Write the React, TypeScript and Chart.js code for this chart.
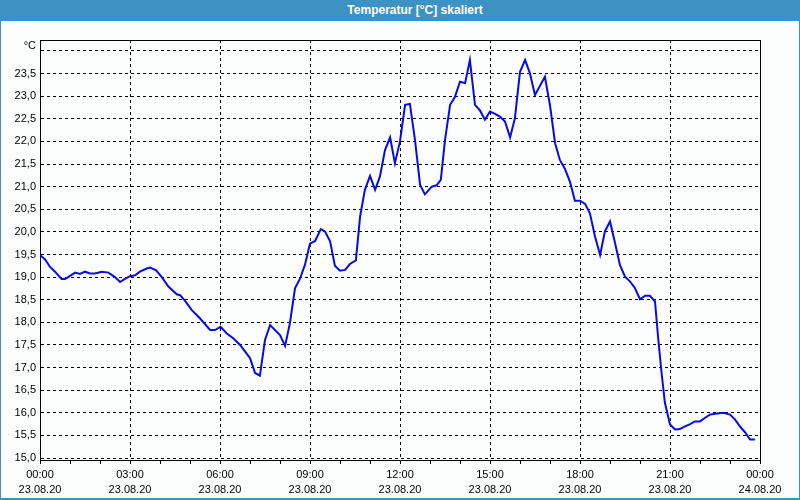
import React, { useEffect, useRef } from "react";
import { Chart, registerables } from "chart.js";

Chart.register(...registerables);

const TITLE = "Temperatur [°C] skaliert";
const UNIT_LABEL = "°C";

// time of day in hours (23.08.20 00:00 = 0)
const hours: number[] = [
  0.0, 0.17, 0.33, 0.5, 0.61, 0.72, 0.83, 0.94, 1.17, 1.33, 1.5, 1.67, 1.83, 2.06, 2.28, 2.5, 2.67, 2.83,
  3.0, 3.17, 3.33, 3.56, 3.67, 3.87, 4.06, 4.28, 4.56, 4.67, 4.83, 5.06, 5.33, 5.67, 5.83,
  6.02, 6.22, 6.44, 6.67, 7.0, 7.17, 7.33, 7.5, 7.67, 8.0, 8.17, 8.33, 8.5, 8.67, 8.83,
  9.0, 9.17, 9.36, 9.5, 9.67, 9.83, 10.0, 10.17, 10.33, 10.53, 10.67, 10.83, 11.0, 11.17, 11.33, 11.5, 11.67, 11.83,
  12.0, 12.17, 12.33, 12.5, 12.67, 12.83, 13.06, 13.22, 13.36, 13.5, 13.67, 13.83, 14.0, 14.17, 14.33, 14.5, 14.67, 14.83,
  15.0, 15.17, 15.33, 15.5, 15.67, 15.83, 16.0, 16.17, 16.33, 16.5, 16.83, 17.0, 17.17, 17.33, 17.5, 17.67, 17.83,
  18.0, 18.17, 18.33, 18.5, 18.67, 18.83, 19.0, 19.17, 19.33, 19.5, 19.67, 19.83, 20.0, 20.17, 20.33, 20.5, 20.61, 20.72, 20.83,
  21.0, 21.17, 21.33, 21.5, 21.67, 21.83, 22.0, 22.17, 22.33, 22.5, 22.78, 23.0, 23.17, 23.33, 23.5, 23.67, 23.83,
];

const temps: number[] = [
  19.49, 19.39, 19.23, 19.12, 19.04, 18.96, 18.96, 19.0, 19.1, 19.07, 19.12, 19.08, 19.08, 19.12, 19.1, 19.0, 18.89, 18.96,
  19.02, 19.04, 19.12, 19.19, 19.21, 19.15, 19.0, 18.79, 18.62, 18.6, 18.48, 18.27, 18.09, 17.83, 17.83,
  17.9, 17.76, 17.65, 17.5, 17.21, 16.88, 16.82, 17.61, 17.94, 17.72, 17.48, 17.98, 18.75, 18.97, 19.27,
  19.74, 19.8, 20.06, 20.01, 19.79, 19.25, 19.14, 19.16, 19.29, 19.37, 20.34, 20.93, 21.24, 20.93, 21.22, 21.81, 22.09, 21.52,
  22.0, 22.81, 22.83, 22.03, 21.04, 20.83, 21.0, 21.03, 21.15, 22.03, 22.81, 22.98, 23.32, 23.29, 23.8, 22.81, 22.68, 22.48,
  22.66, 22.61, 22.55, 22.44, 22.09, 22.51, 23.54, 23.8, 23.51, 23.03, 23.43, 22.8, 21.96, 21.59, 21.39, 21.1, 20.69,
  20.69, 20.62, 20.41, 19.9, 19.49, 20.01, 20.23, 19.75, 19.27, 19.01, 18.9, 18.76, 18.51, 18.59, 18.59, 18.46, 17.62, 16.88, 16.22,
  15.74, 15.63, 15.64, 15.7, 15.75, 15.81, 15.81, 15.89, 15.96, 15.98, 16.0, 15.96, 15.85, 15.7, 15.57, 15.41, 15.41,
];

const xTickHours: number[] = [0, 1, 2, 3, 4, 5, 6, 7, 8, 9, 10, 11, 12, 13, 14, 15, 16, 17, 18, 19, 20, 21, 22, 23, 24];
const xLabelTimes: string[] = ["00:00", "03:00", "06:00", "09:00", "12:00", "15:00", "18:00", "21:00", "00:00"];
const xLabelDates: string[] = ["23.08.20", "23.08.20", "23.08.20", "23.08.20", "23.08.20", "23.08.20", "23.08.20", "23.08.20", "24.08.20"];
const yTickValues: number[] = [15, 15.5, 16, 16.5, 17, 17.5, 18, 18.5, 19, 19.5, 20, 20.5, 21, 21.5, 22, 22.5, 23, 23.5, 24];

const FONT = "'Liberation Sans', Arial, sans-serif";
const BLUE_FRAME = "#3d92c4";

export default function App() {
  const canvasRef = useRef<HTMLCanvasElement | null>(null);

  useEffect(() => {
    document.body.style.margin = "0";
    const canvas = canvasRef.current;
    if (!canvas) return;

    const framePlugin = {
      id: "framePlugin",
      afterDatasetsDraw(chart: any) {
        const { ctx, chartArea } = chart;
        const { left, right, top, bottom } = chartArea;
        ctx.save();
        ctx.strokeStyle = "#000";
        ctx.lineWidth = 1;
        ctx.beginPath();
        ctx.moveTo(Math.round(left) + 0.5, Math.round(top) + 0.5);
        ctx.lineTo(Math.round(right) + 0.5, Math.round(top) + 0.5);
        ctx.lineTo(Math.round(right) + 0.5, Math.round(bottom) + 0.5);
        ctx.stroke();
        ctx.fillStyle = "#000";
        ctx.font = `11px ${FONT}`;
        ctx.textAlign = "right";
        ctx.textBaseline = "middle";
        ctx.fillText(UNIT_LABEL, left - 4, top + 6);
        ctx.restore();
      },
    };

    const chart = new Chart(canvas, {
      type: "line",
      data: {
        datasets: [
          {
            data: hours.map((h, i) => ({ x: h, y: temps[i] })),
            borderColor: "#0a0ae6",
            borderWidth: 2,
            pointRadius: 0,
            tension: 0,
            fill: false,
          },
        ],
      },
      options: {
        animation: false,
        responsive: false,
        maintainAspectRatio: false,
        layout: { padding: { top: 40, right: 40, left: 0, bottom: 0 } },
        plugins: {
          legend: { display: false },
          title: { display: false },
          tooltip: { enabled: false },
        },
        scales: {
          x: {
            type: "linear",
            min: 0,
            max: 24,
            afterBuildTicks: (axis: any) => {
              axis.ticks = xTickHours.map((v) => ({ value: v }));
            },
            afterFit: (s: any) => {
              s.height = 40;
            },
            ticks: {
              autoSkip: false,
              maxRotation: 0,
              minRotation: 0,
              padding: 3,
              color: "#000",
              font: { family: FONT, size: 11, lineHeight: 15 / 11 },
              callback: (v: any) => {
                const n = Number(v);
                if (n % 3 !== 0) return "";
                const i = n / 3;
                return [xLabelTimes[i], xLabelDates[i]];
              },
            },
            grid: {
              color: (ctx: any) => (ctx.tick && ctx.tick.value % 3 === 0 ? "#000" : "rgba(0,0,0,0)"),
              tickColor: "#000",
              tickLength: 4,
              tickBorderDash: [],
              lineWidth: 1,
            },
            border: { display: true, color: "#000", width: 1, dash: [3, 3] },
          },
          y: {
            type: "linear",
            min: 14.956,
            max: 24.243,
            afterBuildTicks: (axis: any) => {
              axis.ticks = yTickValues.map((v) => ({ value: v }));
            },
            afterFit: (s: any) => {
              s.width = 40;
            },
            ticks: {
              padding: 4,
              color: "#000",
              font: { family: FONT, size: 11 },
              callback: (v: any) => {
                const n = Number(v);
                if (n === 24) return "";
                return n.toFixed(1).replace(".", ",");
              },
            },
            grid: {
              color: "#000",
              drawTicks: false,
              lineWidth: 1,
            },
            border: { display: true, color: "#000", width: 1, dash: [3, 3] },
          },
        },
      },
      plugins: [framePlugin],
    } as any);

    return () => {
      chart.destroy();
    };
  }, []);

  return (
    <div
      style={{
        position: "absolute",
        left: 0,
        top: 0,
        width: 800,
        height: 500,
        background: "#fcfefd",
        boxSizing: "border-box",
        borderLeft: `1px solid ${BLUE_FRAME}`,
        borderRight: `1px solid ${BLUE_FRAME}`,
        borderBottom: `2px solid ${BLUE_FRAME}`,
        overflow: "hidden",
      }}
    >
      <canvas
        ref={canvasRef}
        width={800}
        height={500}
        style={{ position: "absolute", left: -1, top: 0, width: 800, height: 500 }}
      />
      <div
        style={{
          position: "absolute",
          left: -1,
          top: 0,
          width: 800,
          height: 21,
          background: BLUE_FRAME,
          color: "#fff",
          font: `bold 12px ${FONT}`,
          lineHeight: "21px",
          textAlign: "center",
          paddingLeft: 30,
          boxSizing: "border-box",
        }}
      >
        {TITLE}
      </div>
    </div>
  );
}
